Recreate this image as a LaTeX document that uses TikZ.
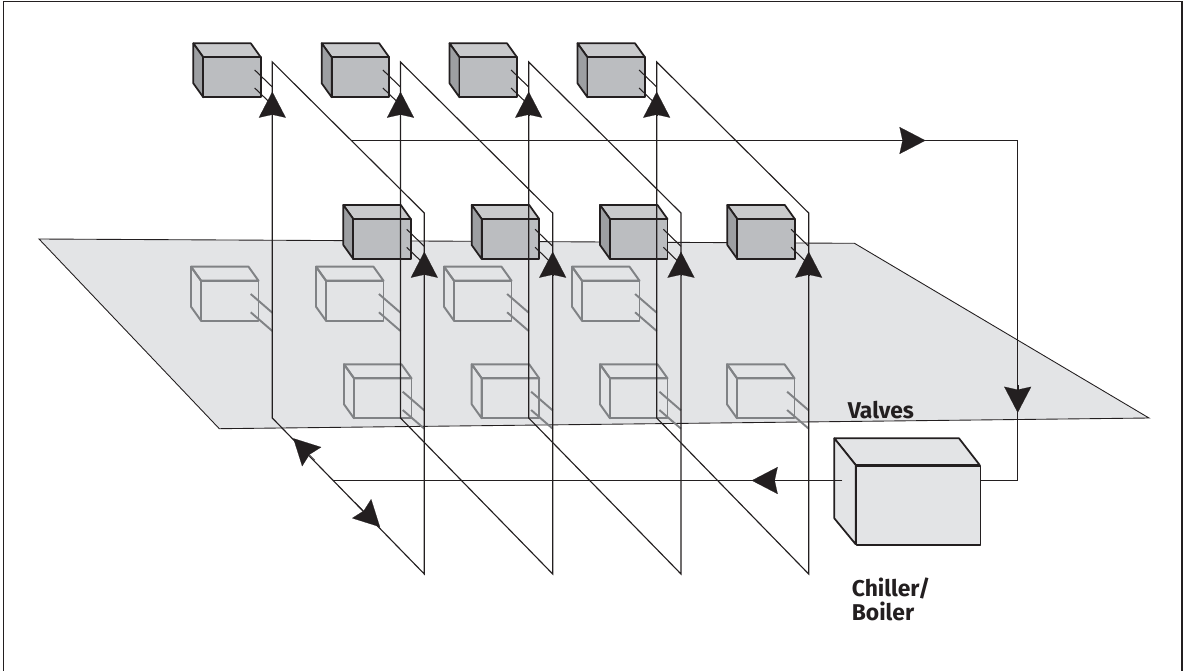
\documentclass[tikz,border=0pt]{standalone}
\usepackage{fontspec}
\setmainfont{Fira Sans}
\usepackage{xcolor}
\usetikzlibrary{arrows.meta,positioning,calc}
\definecolor{inkdark}{HTML}{231F20}
\definecolor{ghostline}{HTML}{808285}
\definecolor{planegray}{HTML}{E3E4E6}
\definecolor{cubetop}{HTML}{C9CACC}
\definecolor{cubefront}{HTML}{BBBDC0}
\definecolor{cubeside}{HTML}{9D9FA2}

% one box: #1 edge style, #2 top, #3 front, #4 side, #5 and #6 back top left corner
\newcommand{\boxat}[6]{%
  \begin{scope}[shift={(#5,#6)}]
    \draw[#1, fill=#2] (0,0) -- (57.5,0) -- (67.5,14) -- (10,14) -- cycle;
    \draw[#1, fill=#4] (0,0) -- (10,14) -- (10,54) -- (0,40) -- cycle;
    \draw[#1, fill=#3] (10,14) rectangle (67.5,54);
  \end{scope}}
\newcommand{\fancube}[2]{\boxat{cubeedge}{cubetop}{cubefront}{cubeside}{#1}{#2}}
\newcommand{\ghostcube}[2]{\boxat{ghostedge}{planegray}{planegray}{planegray}{#1}{#2}}
% the pair of branch pipes: #1 style, #2 end x, #3 start y, #4 dx, #5 dy, #6 gap
\newcommand{\branches}[6]{%
  \draw[#1] (#2-#4,#3) -- (#2,#3+#5);
  \draw[#1] (#2-#4,#3+#6) -- (#2,#3+#6+#5);}
% one coil loop: #1 name, #2 back x, #3 front x
\newcommand{\coilloop}[3]{%
  \coordinate (#1backtop) at (#2,62);
  \coordinate (#1backlow) at (#2,418);
  \coordinate (#1frontlow) at (#3,574);
  \coordinate (#1fronttop) at (#3,213);
  \draw[pipe] (#1backtop) -- (#1backlow) -- (#1frontlow) -- (#1fronttop) -- cycle;
  \draw[ar] (#2,115) -- (#2,91.7);
  \draw[ar] (#3,275) -- (#3,251.7);}

\begin{document}
\begin{tikzpicture}[
  x=0.02cm, y=-0.02cm,
  pipe/.style={draw=inkdark, line width=0.65pt, line join=miter},
  cubeedge/.style={draw=inkdark, line width=1pt, line join=round},
  ghostedge/.style={draw=ghostline, line width=1.1pt, line join=round, fill opacity=0},
  stubdark/.style={draw=inkdark, line width=0.6pt},
  stubgray/.style={draw=ghostline, line width=1.1pt},
  ar/.style={-{Stealth[length=5.2mm, width=5.4mm, inset=0.6mm]}, draw=inkdark, fill=inkdark, line width=0.1pt},
  lbl/.style={font=\bfseries\fontsize{13}{13.7}\selectfont, text=inkdark, inner sep=0pt, align=left}
]
  \useasboundingbox (0,0) rectangle (1183,670);
  \draw[inkdark, line width=0.9pt] (3.5,680) -- (3.5,1.5) -- (1182,1.5) -- (1182,680);

  % floor plane
  \draw[fill=planegray, draw=inkdark, line width=0.5pt]
    (39,239) -- (854.5,243.3) -- (1149,418) -- (219.3,428.7) -- cycle;

  % valves seen through the floor
  \ghostcube{191}{266.7}
  \ghostcube{316}{266.7}
  \ghostcube{444}{266.7}
  \ghostcube{572}{266.7}
  \ghostcube{344}{364.3}
  \ghostcube{471.7}{364.3}
  \ghostcube{600}{364.3}
  \ghostcube{727}{364.3}
  \branches{stubgray}{272.3}{294}{21.6}{18.7}{18.3}
  \branches{stubgray}{400.5}{294}{21.6}{18.7}{18.3}
  \branches{stubgray}{528.7}{294}{21.6}{18.7}{18.3}
  \branches{stubgray}{656.7}{294}{21.6}{18.7}{18.3}
  \branches{stubgray}{424.3}{391.7}{21.6}{18.7}{18.3}
  \branches{stubgray}{552.7}{391.7}{21.6}{18.7}{18.3}
  \branches{stubgray}{681}{391.7}{21.6}{18.7}{18.3}
  \branches{stubgray}{808.7}{391.7}{21.6}{18.7}{18.3}

  % fan coil units
  \fancube{193.3}{43.3}
  \fancube{321.7}{43.3}
  \fancube{449.5}{43.3}
  \fancube{577.5}{43.3}
  \fancube{343.3}{205}
  \fancube{471.7}{205}
  \fancube{600}{205}
  \fancube{727.3}{205}
  \branches{stubdark}{272.3}{70}{17.6}{17}{18}
  \branches{stubdark}{400.5}{70}{17.6}{17}{18}
  \branches{stubdark}{528.7}{70}{17.6}{17}{18}
  \branches{stubdark}{656.7}{70}{17.6}{17}{18}
  \branches{stubdark}{424.3}{229.3}{17.6}{17}{18}
  \branches{stubdark}{552.7}{229.3}{17.6}{17}{18}
  \branches{stubdark}{681}{229.3}{17.6}{17}{18}
  \branches{stubdark}{808.7}{229.3}{17.6}{17}{18}

  % chiller
  \draw[cubeedge, fill=planegray] (834.3,438.3) -- (959,438.3) -- (979.7,465) -- (855.7,465) -- cycle;
  \draw[cubeedge, fill=planegray] (834.3,438.3) -- (855.7,465) -- (855.7,544.3) -- (834.3,518.3) -- cycle;
  \node[cubeedge, fill=planegray, minimum width=2.48cm, minimum height=1.586cm, inner sep=0pt, anchor=north west]
    (chiller) at (855.7,465) {};

  % coils
  \coilloop{coila}{272.3}{424.3}
  \coilloop{coilb}{400.5}{552.7}
  \coilloop{coilc}{528.7}{681}
  \coilloop{coild}{656.7}{808.7}

  % supply and return mains
  \coordinate (supplystart) at (351,140.5);
  \coordinate (supplycorner) at (1017.7,140.5);
  \coordinate (risercorner) at (1017.7,480.5);
  \coordinate (chillerout) at (979.7,480.5);
  \coordinate (chillerin) at (842.3,480.5);
  \coordinate (returnend) at (333,480.5);
  \draw[pipe] (supplystart) -- (supplycorner) -- (risercorner) -- (chillerout);
  \draw[pipe] (chillerin) -- (returnend);
  \draw[ar] (895,140.5) -- (925.5,140.5);
  \draw[ar] (1017.7,385) -- (1017.7,412.7);
  \draw[ar] (780,480.5) -- (751.7,480.5);
  \draw[ar] (315,460) -- (293.3,438.3);
  \draw[ar] (355,502) -- (380,527);

  \node[lbl, anchor=base west] (valves) at (847.5,418.3) {Valves};
  \node[lbl, anchor=base west] (chillerlabel) at (851.5,620.7) {Chiller/\\Boiler};
\end{tikzpicture}
\end{document}
